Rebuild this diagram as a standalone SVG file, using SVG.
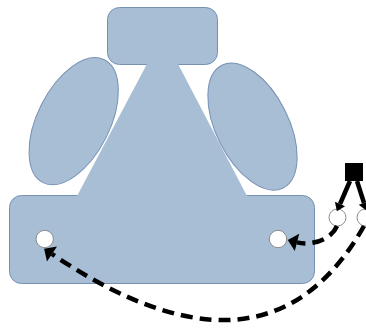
<svg xmlns="http://www.w3.org/2000/svg" width="366" height="328" viewBox="0 0 366 328">
  <style>
    .body { fill: #a8bed5; stroke: #7690b4; stroke-width: 1; }
    .fillonly { fill: #a8bed5; stroke: none; }
    .hole { fill: #ffffff; stroke: #8a8a8a; stroke-width: 1; }
    .dash { fill: none; stroke: #000000; stroke-width: 4.5; stroke-dasharray: 12 7; }
    .solid { fill: none; stroke: #000000; stroke-width: 4.5; }
  </style>
  <defs>
    <marker id="bigHead" markerUnits="userSpaceOnUse" markerWidth="10" markerHeight="18" refX="0" refY="9" orient="auto" overflow="visible">
      <path d="M0,0 L9.5,9 L0,18 z" fill="#000000"/>
    </marker>
    <marker id="smallHead" markerUnits="userSpaceOnUse" markerWidth="8" markerHeight="11" refX="0" refY="5.5" orient="auto" overflow="visible">
      <path d="M0,0 L8,5.5 L0,11 z" fill="#000000"/>
    </marker>
  </defs>

  <g id="main-body">
    <rect class="body" x="107.5" y="7.5" width="110" height="57" rx="12" ry="12"/>
    <rect class="body" x="9.5" y="195.5" width="305" height="88" rx="12" ry="12"/>
    <polygon class="fillonly" points="148,62 177,62 247.5,197 76.5,197"/>
  </g>
  <g id="left-ellipse">
    <ellipse class="body" cx="73.7" cy="121.2" rx="36.3" ry="68.6" transform="rotate(26.5 73.7 121.2)"/>
  </g>
  <g id="right-ellipse">
    <ellipse class="body" cx="252.5" cy="126.6" rx="36.3" ry="68.6" transform="rotate(-26.5 252.5 126.6)"/>
  </g>
  <g id="left-hole">
    <circle class="hole" cx="44.7" cy="239" r="8.7"/>
  </g>
  <g id="right-hole">
    <circle class="hole" cx="278" cy="239" r="8.7"/>
  </g>
  <g id="source-square">
    <rect x="345" y="163" width="18" height="18" fill="#000000"/>
  </g>
  <g id="out-circle-left">
    <circle class="hole" cx="337.5" cy="217.5" r="8.5"/>
  </g>
  <g id="out-circle-right">
    <circle class="hole" cx="365.5" cy="217.5" r="8.5"/>
  </g>

  <g id="connectors">
    <path class="solid" d="M350,181 L340,204" marker-end="url(#smallHead)"/>
    <path class="solid" d="M357,181 L364,203" marker-end="url(#smallHead)"/>
    <path class="dash" d="M337,226 C331,240 311,246 297,242.4" marker-end="url(#bigHead)"/>
    <path class="dash" d="M364,226 C312.5,317 222,369 52,254" marker-end="url(#bigHead)"/>
  </g>
</svg>
